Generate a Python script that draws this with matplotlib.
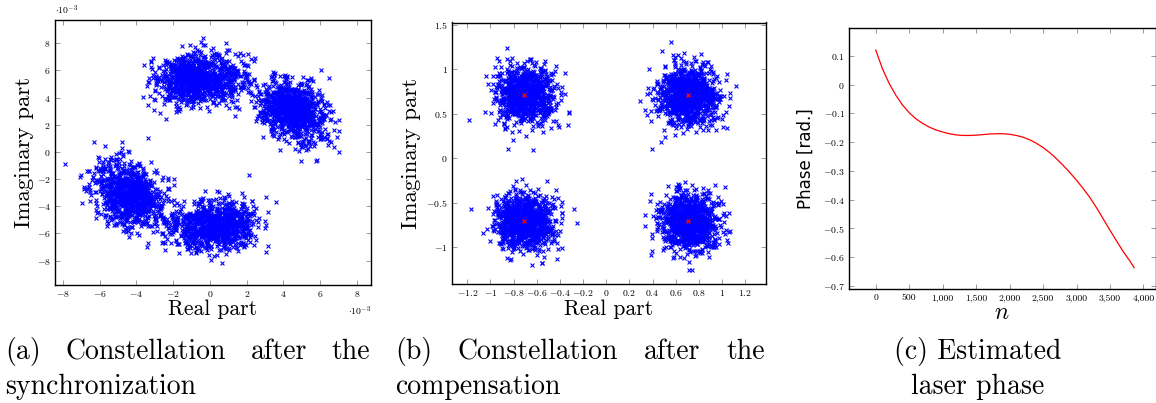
import numpy as np
import matplotlib
matplotlib.use('Agg')
import matplotlib.pyplot as plt

plt.rcParams['font.family'] = ['cmr10', 'DejaVu Serif']
plt.rcParams['mathtext.fontset'] = 'cm'
plt.rcParams['axes.unicode_minus'] = False

# ---- data ----
# (c) estimated laser phase
phase_n = [0, 100, 200, 300, 400, 500, 600, 700, 800, 900, 1000, 1100, 1200,
           1300, 1400, 1500, 1600, 1700, 1800, 1900, 2000, 2100, 2200, 2300,
           2400, 2500, 2600, 2700, 2800, 2900, 3000, 3100, 3200, 3300, 3400,
           3500, 3600, 3700, 3800, 3860]
phase_rad = [0.120, 0.055, 0.004, -0.037, -0.071, -0.098, -0.119, -0.135,
             -0.148, -0.158, -0.165, -0.171, -0.175, -0.177, -0.177, -0.176,
             -0.174, -0.172, -0.171, -0.171, -0.173, -0.177, -0.183, -0.192,
             -0.204, -0.219, -0.237, -0.258, -0.281, -0.306, -0.333, -0.362,
             -0.393, -0.429, -0.468, -0.507, -0.545, -0.582, -0.615, -0.637]

# (a) cluster angles (deg) and radius, x1e-3 units, before compensation
sync_angles_deg = [110, 47, 285, 229]
sync_radius = 5.5
sync_noise_re = 0.8
sync_noise_im = 0.9

# (b) compensated QPSK points and noise
qpsk_re = [0.707, -0.707, -0.707, 0.707]
qpsk_im = [0.707, 0.707, -0.707, -0.707]
comp_noise_re = 0.13
comp_noise_im = 0.165

ticks_a = [-8, -6, -4, -2, 0, 2, 4, 6, 8]
ticks_bx = [-1.2, -1, -0.8, -0.6, -0.4, -0.2, 0, 0.2, 0.4, 0.6, 0.8, 1, 1.2]
ticks_by = [-1, -0.5, 0, 0.5, 1, 1.5]
ticks_cx = [0, 500, 1000, 1500, 2000, 2500, 3000, 3500, 4000]
ticks_cy = [-0.7, -0.6, -0.5, -0.4, -0.3, -0.2, -0.1, 0, 0.1]

# noise clouds (single points cannot be read, only centres and spread)
rng = np.random.default_rng(3)
n_sym = 3860
sym = rng.integers(0, 4, n_sym)
phi = np.interp(np.arange(n_sym), phase_n, phase_rad)
ang = np.deg2rad(np.array(sync_angles_deg))[sym] + phi
a_re = sync_radius * np.cos(ang) + rng.normal(0, sync_noise_re, n_sym)
a_im = sync_radius * np.sin(ang) + rng.normal(0, sync_noise_im, n_sym)
b_re = np.array(qpsk_re)[sym] + rng.normal(0, comp_noise_re, n_sym)
b_im = np.array(qpsk_im)[sym] + rng.normal(0, comp_noise_im, n_sym)

W, H = 1156, 403
fig = plt.figure(figsize=(W / 100, H / 100), dpi=100)

def px_axes(l, r, t, b):
    return fig.add_axes([l / W, 1 - b / H, (r - l) / W, (b - t) / H])

def style(ax):
    ax.tick_params(direction='in', length=3.5, width=0.6, color='#888888',
                   top=True, right=True, labelsize=7, pad=3)
    for s in ax.spines.values():
        s.set_linewidth(1.0)

def mlab(v):
    return '$%g$' % v

# (a)
ax1 = px_axes(55, 371, 20, 285)
ax1.scatter(a_re, a_im, marker='x', s=8, linewidths=0.8, color='#0000ff')
ax1.set_xlim(-8.43, 8.76)
ax1.set_ylim(-9.79, 9.7)
ax1.set_xticks(ticks_a)
ax1.set_xticklabels([mlab(v) for v in ticks_a])
ax1.set_yticks(ticks_a)
ax1.set_yticklabels([mlab(v) for v in ticks_a])
style(ax1)
ax1.text(0.0, 1.01, r'$\cdot 10^{-3}$', transform=ax1.transAxes, fontsize=7,
         ha='left', va='bottom')
ax1.text(1.0, -0.075, r'$\cdot 10^{-3}$', transform=ax1.transAxes, fontsize=7,
         ha='right', va='top')
ax1.set_xlabel('Real part', fontsize=15.5, labelpad=0)
ax1.set_ylabel('Imaginary part', fontsize=16.5, labelpad=2)

# (b)
ax2 = px_axes(452, 766, 22.5, 284)
ax2.scatter(b_re, b_im, marker='x', s=8, linewidths=0.8, color='#0000ff')
ax2.scatter(qpsk_re, qpsk_im, marker='x', s=8, linewidths=1.0, color='#ff0000')
ax2.set_xlim(-1.332, 1.38)
ax2.set_ylim(-1.41, 1.526)
ax2.set_xticks(ticks_bx)
ax2.set_xticklabels([mlab(v) for v in ticks_bx])
ax2.set_yticks(ticks_by)
ax2.set_yticklabels([mlab(v) for v in ticks_by])
style(ax2)
ax2.set_xlabel('Real part', fontsize=15.5, labelpad=1)
ax2.set_ylabel('Imaginary part', fontsize=16.5, labelpad=4)

# (c)
ax3 = px_axes(849, 1155.5, 28.3, 289.3)
ax3.plot(phase_n, phase_rad, color='#ff0000', lw=0.9)
ax3.set_xlim(-400, 4180)
ax3.set_ylim(-0.7125, 0.196)
ax3.set_xticks(ticks_cx)
ax3.set_xticklabels(['{:,}'.format(v) for v in ticks_cx])
ax3.set_yticks(ticks_cy)
ax3.set_yticklabels([mlab(v) for v in ticks_cy])
style(ax3)
ax3.set_xlabel('$n$', fontsize=17, labelpad=0)
ax3.set_ylabel('Phase [rad.]', fontsize=12, family='DejaVu Sans', labelpad=6)

# captions (first line justified like LaTeX)
cap = dict(fontsize=20, va='baseline')
y1 = 1 - 359 / H
y2 = 1 - 394 / H

def justify(words, x0, x1, y):
    texts = [fig.text(0, y, w, ha='left', **cap) for w in words]
    fig.canvas.draw()
    r = fig.canvas.get_renderer()
    widths = [t.get_window_extent(r).width for t in texts]
    gap = (x1 - x0 - sum(widths)) / (len(words) - 1)
    x = x0
    for t, w in zip(texts, widths):
        t.set_x(x / W)
        x += w + gap

justify(['(a)', 'Constellation', 'after', 'the'], 5, 370, y1)
fig.text(5 / W, y2, 'synchronization', ha='left', **cap)
justify(['(b)', 'Constellation', 'after', 'the'], 395, 765, y1)
fig.text(395 / W, y2, 'compensation', ha='left', **cap)
fig.text(978 / W, y1, '(c) Estimated', ha='center', **cap)
fig.text(978 / W, y2, 'laser phase', ha='center', **cap)

fig.savefig('out.png', dpi=100)
